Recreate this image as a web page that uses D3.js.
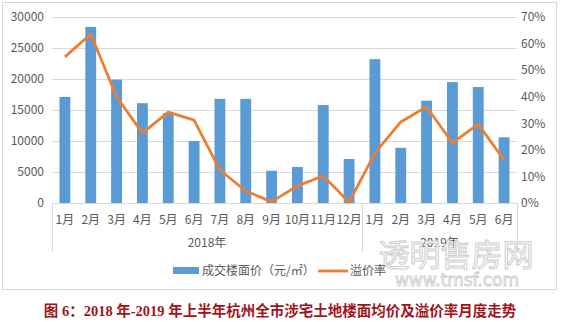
<!DOCTYPE html>
<html><head><meta charset="utf-8">
<script src="https://cdn.jsdelivr.net/npm/d3@7/dist/d3.min.js"></script>
<style>
html,body{margin:0;padding:0;background:#fff;}
svg{display:block;}
text{font-family:"Noto Sans CJK SC","Microsoft YaHei",sans-serif;}
</style></head>
<body>
<svg id="c" width="561" height="322"></svg>
<script>
const months = ["1月","2月","3月","4月","5月","6月","7月","8月","9月","10月","11月","12月","1月","2月","3月","4月","5月","6月"];
const yearGroups = ["2018年","2019年"];
const yearSizes = [12, 6];
const price = [17100,28400,19900,16100,14500,10000,16800,16800,5200,5800,15800,7100,23200,8900,16500,19500,18700,10600];
const premium = [0.55,0.636,0.40,0.263,0.342,0.312,0.124,0.045,0.005,0.064,0.102,0.003,0.188,0.305,0.362,0.226,0.297,0.162];
const leftTicks = [0,5000,10000,15000,20000,25000,30000];
const rightTicks = [0,0.1,0.2,0.3,0.4,0.5,0.6,0.7];
const seriesNames = ["成交楼面价（元/㎡）","溢价率"];
const title = "图 6：2018 年-2019 年上半年杭州全市涉宅土地楼面均价及溢价率月度走势";

const svg = d3.select("#c");
const L = 52, R = 517, T = 17, B = 203;
const blue = "#5b9bd5", orange = "#ed7d31", grid = "#d9d9d9", txt = "#595959";

// outer border
svg.append("rect").attr("x",2.5).attr("y",2.5).attr("width",554).attr("height",287)
  .attr("fill","none").attr("stroke","#d9d9d9");

const x = d3.scaleBand().domain(d3.range(months.length)).range([L,R]).paddingInner(0.58).paddingOuter(0.29);
const step = x.step();
const cx = i => x(i) + x.bandwidth()/2;
const yL = d3.scaleLinear().domain([0,30000]).range([B,T]);
const yR = d3.scaleLinear().domain([0,0.7]).range([B,T]);

// gridlines
svg.append("g").selectAll("line").data(leftTicks).join("line")
  .attr("x1",L).attr("x2",R).attr("y1",d=>Math.round(yL(d))+0.5).attr("y2",d=>Math.round(yL(d))+0.5)
  .attr("stroke",grid);

// left axis
const ga = svg.append("g").attr("transform",`translate(${L},0)`)
  .call(d3.axisLeft(yL).tickValues(leftTicks).tickSize(0).tickPadding(8).tickFormat(d3.format("d")));
ga.select(".domain").remove();
ga.selectAll("text").attr("fill",txt).style("font-size","12px").style("font-family","'Noto Sans CJK SC',sans-serif");

// right axis
const gr = svg.append("g").attr("transform",`translate(${R},0)`)
  .call(d3.axisRight(yR).tickValues(rightTicks).tickSize(0).tickPadding(4).tickFormat(d3.format(".0%")));
gr.select(".domain").remove();
gr.selectAll("text").attr("fill",txt).style("font-size","12px").style("font-family","'Noto Sans CJK SC',sans-serif");

// bars
svg.append("g").selectAll("rect").data(price).join("rect")
  .attr("x",(d,i)=>x(i)).attr("width",x.bandwidth())
  .attr("y",d=>yL(d)).attr("height",d=>B-yL(d)).attr("fill",blue);

// category axis line
svg.append("line").attr("x1",L).attr("x2",R).attr("y1",B+0.5).attr("y2",B+0.5).attr("stroke",grid);

// group separators
let bounds = [0];
yearSizes.forEach((s,k)=>bounds.push(bounds[k]+s));
svg.append("g").selectAll("line").data(bounds).join("line")
  .attr("x1",d=>Math.round(L+d*step)+0.5).attr("x2",d=>Math.round(L+d*step)+0.5)
  .attr("y1",B).attr("y2",252).attr("stroke",grid);

// month labels
svg.append("g").selectAll("text").data(months).join("text")
  .attr("x",(d,i)=>cx(i)).attr("y",224).attr("text-anchor","middle")
  .attr("fill",txt).style("font-size","12px").text(d=>d);

// year labels
svg.append("g").selectAll("text").data(yearGroups).join("text")
  .attr("x",(d,k)=>L+(bounds[k]+yearSizes[k]/2)*step).attr("y",247).attr("text-anchor","middle")
  .attr("fill",txt).style("font-size","12px").text(d=>d);

// line
svg.append("path").datum(premium)
  .attr("d",d3.line().x((d,i)=>cx(i)).y(d=>yR(d)))
  .attr("fill","none").attr("stroke",orange).attr("stroke-width",2.75).attr("stroke-linejoin","round");

// watermark
svg.append("text").attr("x",456).attr("y",266).attr("text-anchor","middle")
  .attr("fill","#fff").attr("stroke","#c8c8c8").attr("stroke-width",1).attr("opacity",0.9)
  .style("font-size","31px").style("letter-spacing","0px").text("透明售房网");
svg.append("text").attr("x",457).attr("y",286).attr("text-anchor","middle")
  .attr("fill","#fff").attr("stroke","#c8c8c8").attr("stroke-width",0.8)
  .style("font-size","17px").style("font-family","'DejaVu Sans',sans-serif").text("www.tmsf.com");

// legend
const lg = svg.append("g");
lg.append("rect").attr("x",173).attr("y",267).attr("width",26).attr("height",7).attr("fill",blue);
lg.append("text").attr("x",202).attr("y",275).attr("fill",txt).style("font-size","12px").text(seriesNames[0]);
lg.append("line").attr("x1",318).attr("x2",348).attr("y1",271).attr("y2",271).attr("stroke",orange).attr("stroke-width",2.75);
lg.append("text").attr("x",350).attr("y",275).attr("fill",txt).style("font-size","12px").text(seriesNames[1]);

// title
svg.append("text").attr("x",280).attr("y",316).attr("text-anchor","middle")
  .attr("fill","#a0151b").style("font-size","14.5px").style("font-weight","bold")
  .style("font-family","'Liberation Serif','Noto Sans CJK SC',serif").text(title);
</script>
</body></html>
